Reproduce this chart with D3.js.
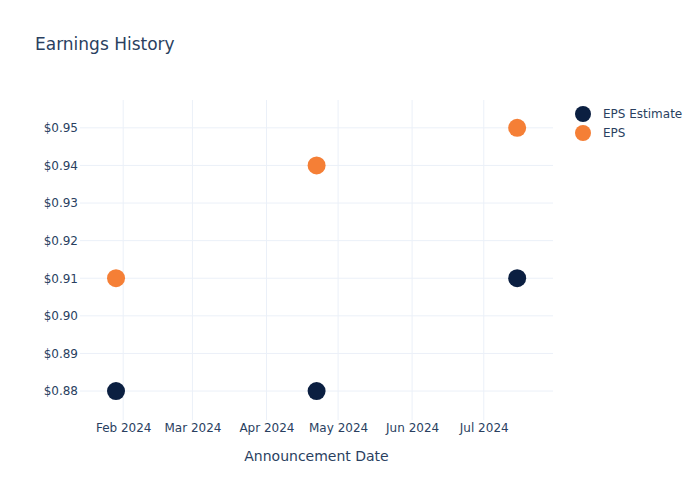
<!DOCTYPE html>
<html><head><meta charset="utf-8">
<script src="https://cdn.jsdelivr.net/npm/d3@7"></script>
<style>body{margin:0;background:#fff}svg{font-family:"DejaVu Sans",sans-serif}</style>
</head><body><svg id="c" width="700" height="500"></svg>
<script>
const dates = ["2024-01-29", "2024-04-22", "2024-07-15"];
const epsEstimate = [0.88, 0.88, 0.91];
const eps = [0.91, 0.94, 0.95];
const yTicks = [0.88, 0.89, 0.90, 0.91, 0.92, 0.93, 0.94, 0.95];
const xTicks = ["2024-02-01", "2024-03-01", "2024-04-01", "2024-05-01", "2024-06-01", "2024-07-01"];
const seriesNames = ["EPS Estimate", "EPS"];
const colors = ["#0b1f41", "#f57f36"];

const svg = d3.select("#c");
const parse = d3.utcParse("%Y-%m-%d");
const L = 80, R = 553, T = 100, B = 420;
const x = d3.scaleUtc().domain([new Date(Date.UTC(2024,0,13,22)), new Date(Date.UTC(2024,6,30))]).range([L, R]);
const y = d3.scaleLinear().domain([0.8723, 0.9574]).range([B, T]);
const txt = "#2a3f5f";
const ff = "'DejaVu Sans',sans-serif";

const g = svg.append("g");
g.selectAll(".gx").data(xTicks).join("line")
  .attr("x1", d => x(parse(d))).attr("x2", d => x(parse(d)))
  .attr("y1", T).attr("y2", B).attr("stroke", "#ebf0f8").attr("stroke-width", 1);
g.selectAll(".gy").data(yTicks).join("line")
  .attr("x1", L).attr("x2", R)
  .attr("y1", d => y(d)).attr("y2", d => y(d)).attr("stroke", "#ebf0f8").attr("stroke-width", 1);

const xAxis = d3.axisBottom(x).tickValues(xTicks.map(parse)).tickFormat(d3.utcFormat("%b %Y")).tickSize(0).tickPadding(3);
const xa = svg.append("g").attr("transform", `translate(0,${B})`).call(xAxis);
xa.select(".domain").remove();
xa.selectAll("text").attr("fill", txt).attr("font-size", 12).attr("font-family", ff);

const yAxis = d3.axisLeft(y).tickValues(yTicks).tickFormat(d => "$" + d3.format(".2f")(d)).tickSize(0).tickPadding(2);
const ya = svg.append("g").attr("transform", `translate(${L},0)`).call(yAxis);
ya.select(".domain").remove();
ya.selectAll("text").attr("fill", txt).attr("font-size", 12).attr("font-family", ff);

const series = [epsEstimate, eps];
series.forEach((vals, i) => {
  svg.append("g").selectAll("circle").data(vals).join("circle")
    .attr("cx", (d, j) => x(parse(dates[j]))).attr("cy", d => y(d))
    .attr("r", 9).attr("fill", colors[i]);
});

svg.append("text").attr("x", 35).attr("y", 50).attr("fill", txt).attr("font-size", 17).attr("font-family", ff).text("Earnings History");
svg.append("text").attr("x", (L + R) / 2).attr("y", 461).attr("text-anchor", "middle").attr("fill", txt).attr("font-size", 14).attr("font-family", ff).text("Announcement Date");

seriesNames.forEach((n, i) => {
  const ly = 114 + i * 19;
  svg.append("circle").attr("cx", 583).attr("cy", ly).attr("r", 8).attr("fill", colors[i]);
  svg.append("text").attr("x", 603).attr("y", ly + 4).attr("fill", txt).attr("font-size", 12).attr("font-family", ff).text(n);
});
</script></body></html>
